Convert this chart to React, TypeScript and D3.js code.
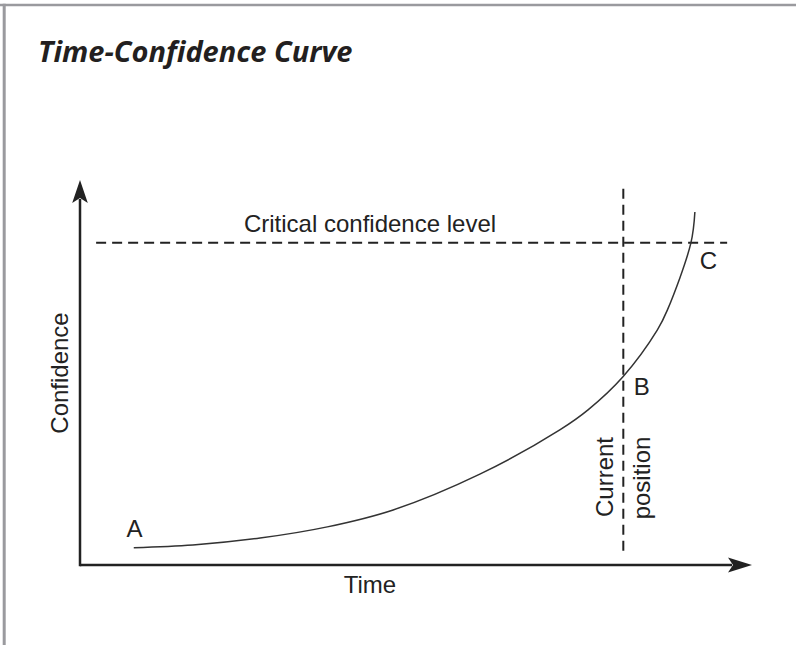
import React from "react";
import * as d3 from "d3";

// Curve readings (time, confidence) on a 0-100 scale
const curveTime = [8, 16.8, 26.8, 36.8, 46.6, 59.5, 71.4, 75.6, 80.8, 85.9, 87.4, 90.9, 91.5];
const curveConfidence = [4.5, 5.2, 7.0, 9.9, 14.3, 23.6, 35.1, 40.3, 48.9, 61.0, 66.2, 83.6, 91.7];

const criticalLevel = 83.7;
const currentTime = 80.85;

const pointLabels = ["A", "B", "C"];
const pointTime = [8.1, 83.6, 93.5];
const pointConfidence = [7.3, 44.2, 77.0];

const W = 796;
const H = 645;

const App: React.FC = () => {
  const x = d3.scaleLinear().domain([0, 100]).range([80, 752]);
  const y = d3.scaleLinear().domain([0, 100]).range([565, 180]);

  const data = curveTime.map((t, i) => ({ t, c: curveConfidence[i] }));
  const line = d3
    .line<{ t: number; c: number }>()
    .x((d) => x(d.t))
    .y((d) => y(d.c))
    .curve(d3.curveCatmullRom.alpha(0.5));

  const x0 = x(0);
  const y0 = y(0);
  const xEnd = x(100);
  const yEnd = y(100);

  const ink = "#222";
  const font = "'Liberation Sans', Arial, Helvetica, sans-serif";

  // arrowheads with a notched back
  const xArrow = `M${xEnd},${y0} L${xEnd - 24},${y0 - 7.5} L${xEnd - 19},${y0} L${xEnd - 24},${y0 + 7.5} Z`;
  const yArrow = `M${x0},${yEnd} L${x0 - 7.8},${yEnd + 23} L${x0},${yEnd + 18} L${x0 + 7.8},${yEnd + 23} Z`;

  return (
    <svg
      width={W}
      height={H}
      style={{ position: "absolute", left: 0, top: 0, background: "#fff" }}
    >
      {/* frame */}
      <line x1={0} x2={W} y1={5} y2={5} stroke="#9a9a9e" strokeWidth={2.6} />
      <line x1={4.2} x2={4.2} y1={3.7} y2={H} stroke="#9a9a9e" strokeWidth={3} />

      <text
        x={38}
        y={62}
        fontFamily="'Open Sans', sans-serif"
        fontWeight={700}
        fontStyle="italic"
        fontSize={29}
        fill="#231f20"
      >
        Time-Confidence Curve
      </text>

      {/* axes */}
      <line x1={x0} x2={xEnd - 20} y1={y0} y2={y0} stroke={ink} strokeWidth={2.5} />
      <line x1={x0} x2={x0} y1={y0 + 1.25} y2={yEnd + 19} stroke={ink} strokeWidth={2.5} />
      <path d={xArrow} fill={ink} />
      <path d={yArrow} fill={ink} />

      {/* reference lines */}
      <line
        x1={x(2.4)}
        x2={x(96.3)}
        y1={y(criticalLevel)}
        y2={y(criticalLevel)}
        stroke={ink}
        strokeWidth={2}
        strokeDasharray="10 6"
      />
      <line
        x1={x(currentTime)}
        x2={x(currentTime)}
        y1={y(97.7)}
        y2={y(2.2)}
        stroke={ink}
        strokeWidth={2}
        strokeDasharray="10 6"
      />

      <path d={line(data) || ""} fill="none" stroke="#333" strokeWidth={1.5} />

      {/* labels */}
      <g fontFamily={font} fontSize={24} fill={ink}>
        <text x={370} y={231.5} textAnchor="middle">
          Critical confidence level
        </text>
        <text x={370} y={593} textAnchor="middle">
          Time
        </text>
        <text transform={`translate(68,373) rotate(-90)`} textAnchor="middle">
          Confidence
        </text>
        <text transform={`translate(612.5,477) rotate(-90)`} textAnchor="middle">
          Current
        </text>
        <text transform={`translate(650,478) rotate(-90)`} textAnchor="middle">
          position
        </text>
        {pointLabels.map((l, i) => (
          <text key={l} x={x(pointTime[i])} y={y(pointConfidence[i])} textAnchor="middle">
            {l}
          </text>
        ))}
      </g>
    </svg>
  );
};

export default App;
